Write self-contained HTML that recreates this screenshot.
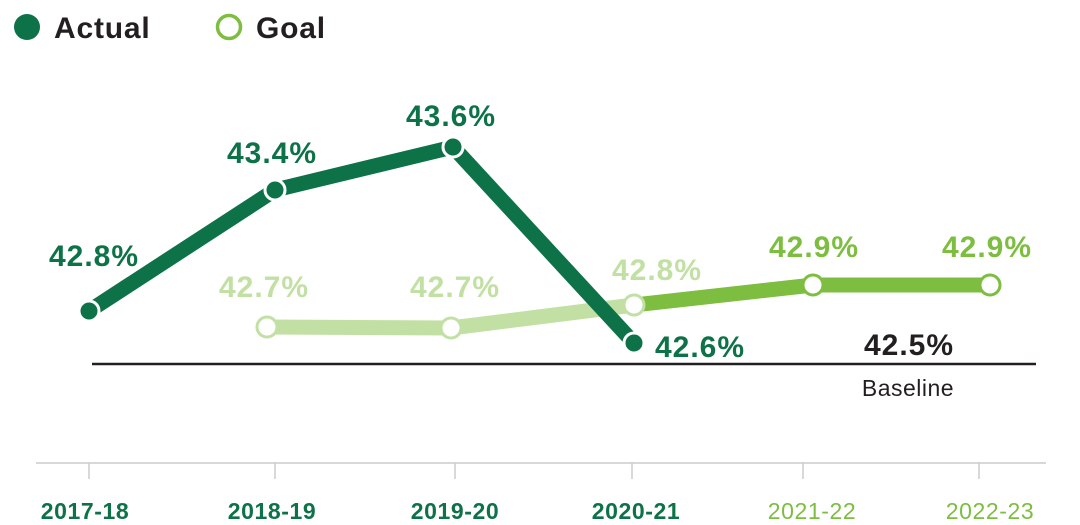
<!DOCTYPE html>
<html><head><style>
html,body{margin:0;padding:0;background:#fff;}
svg{display:block;font-family:"Liberation Sans",sans-serif;}
</style></head><body>
<svg width="1080" height="525" viewBox="0 0 1080 525">
<circle cx="27" cy="27" r="13" fill="#0e7249"/>
<text x="54" y="38" font-size="30" font-weight="bold" fill="#231f20" letter-spacing="0.8">Actual</text>
<circle cx="229" cy="27" r="11.5" fill="#fff" stroke="#7dbd40" stroke-width="3.5"/>
<text x="256" y="38" font-size="30" font-weight="bold" fill="#231f20" letter-spacing="0.8">Goal</text>

<line x1="36" y1="463" x2="1046" y2="463" stroke="#cccccc" stroke-width="1.5"/>
<g stroke="#cccccc" stroke-width="1.5">
<line x1="89" y1="463" x2="89" y2="479"/><line x1="275" y1="463" x2="275" y2="479"/>
<line x1="455" y1="463" x2="455" y2="479"/><line x1="632" y1="463" x2="632" y2="479"/>
<line x1="803" y1="463" x2="803" y2="479"/><line x1="979" y1="463" x2="979" y2="479"/>
</g>
<g font-size="23" text-anchor="middle" letter-spacing="0.6">
<text x="85" y="519" font-weight="bold" fill="#0e7249">2017-18</text>
<text x="272" y="519" font-weight="bold" fill="#0e7249">2018-19</text>
<text x="455" y="519" font-weight="bold" fill="#0e7249">2019-20</text>
<text x="636" y="519" font-weight="bold" fill="#0e7249">2020-21</text>
<text x="812" y="519" fill="#7dbd40">2021-22</text>
<text x="990" y="519" fill="#7dbd40">2022-23</text>
</g>

<line x1="92" y1="364" x2="1036" y2="364" stroke="#231f20" stroke-width="2.5"/>
<text x="909" y="355" font-size="30" font-weight="bold" fill="#231f20" text-anchor="middle" letter-spacing="1">42.5%</text>
<text x="908" y="396" font-size="23" fill="#231f20" text-anchor="middle" letter-spacing="0.5">Baseline</text>

<polyline points="267,327 451,328 634,305" fill="none" stroke="#c2e0a4" stroke-width="15"/>
<polyline points="634,305 813,285 990,285" fill="none" stroke="#7dbd40" stroke-width="15"/>
<polyline points="89,311 275,190 453,147 634,343" fill="none" stroke="#0e7249" stroke-width="15" stroke-linejoin="round"/>

<g stroke-width="3">
<circle cx="267" cy="327" r="10" fill="#fff" stroke="#c2e0a4"/>
<circle cx="451" cy="328" r="10" fill="#fff" stroke="#c2e0a4"/>
<circle cx="634" cy="305" r="10" fill="#fff" stroke="#c2e0a4"/>
<circle cx="813" cy="285" r="10" fill="#fff" stroke="#7dbd40"/>
<circle cx="990" cy="285" r="10" fill="#fff" stroke="#7dbd40"/>
<circle cx="89" cy="311" r="10" fill="#0e7249" stroke="#fff"/>
<circle cx="275" cy="190" r="10" fill="#0e7249" stroke="#fff"/>
<circle cx="453" cy="147" r="10" fill="#0e7249" stroke="#fff"/>
<circle cx="634" cy="343" r="10" fill="#0e7249" stroke="#fff"/>
</g>

<g font-size="30" font-weight="bold" text-anchor="middle" letter-spacing="1">
<text x="94" y="266" fill="#0e7249">42.8%</text>
<text x="272" y="163" fill="#0e7249">43.4%</text>
<text x="451" y="126" fill="#0e7249">43.6%</text>
<text x="700" y="357" fill="#0e7249">42.6%</text>
<text x="264" y="297" fill="#c2e0a4">42.7%</text>
<text x="455" y="297" fill="#c2e0a4">42.7%</text>
<text x="657" y="280" fill="#c2e0a4">42.8%</text>
<text x="814" y="257" fill="#7dbd40">42.9%</text>
<text x="987" y="257" fill="#7dbd40">42.9%</text>
</g>
</svg>
</body></html>
